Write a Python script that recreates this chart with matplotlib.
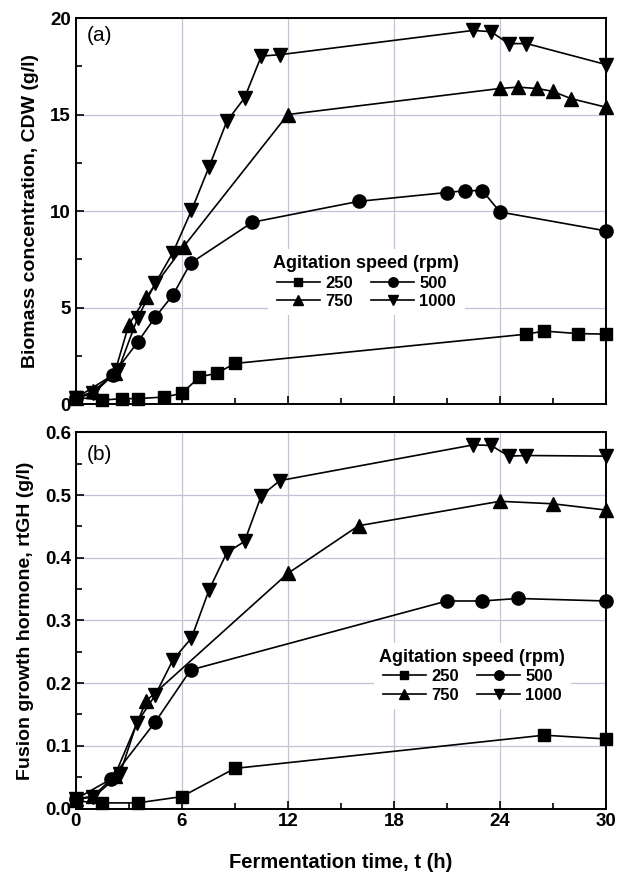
import matplotlib
matplotlib.use("Agg")
import matplotlib.pyplot as plt
from matplotlib.ticker import MultipleLocator

plt.rcParams['font.family'] = ['Liberation Sans', 'DejaVu Sans']

# ---- Data: panel (a) biomass CDW (g/l) ----
t_a_250 = [0, 1.5, 2.6, 3.5, 5.0, 6.0, 7.0, 8.0, 9.0, 25.5, 26.5, 28.4, 30.0]
y_a_250 = [0.35, 0.2, 0.28, 0.28, 0.36, 0.55, 1.4, 1.6, 2.1, 3.62, 3.78, 3.65, 3.62]
t_a_500 = [0, 2.1, 3.5, 4.5, 5.5, 6.5, 10.0, 16.0, 21.0, 22.0, 23.0, 24.0, 30.0]
y_a_500 = [0.3, 1.5, 3.2, 4.5, 5.65, 7.3, 9.42, 10.5, 10.96, 11.05, 11.06, 9.95, 8.97]
t_a_750 = [0, 1.0, 2.2, 3.0, 4.0, 6.1, 12.0, 24.0, 25.0, 26.1, 27.0, 28.0, 30.0]
y_a_750 = [0.3, 0.65, 1.6, 4.1, 5.56, 8.15, 15.0, 16.35, 16.42, 16.35, 16.2, 15.83, 15.38]
t_a_1000 = [0, 1.0, 2.4, 3.5, 4.5, 5.5, 6.55, 7.55, 8.55, 9.55, 10.5, 11.55, 22.5, 23.5, 24.5, 25.5, 30.0]
y_a_1000 = [0.3, 0.55, 1.75, 4.45, 6.25, 7.85, 10.03, 12.3, 14.65, 15.86, 18.03, 18.1, 19.36, 19.29, 18.67, 18.68, 17.59]

# ---- Data: panel (b) rtGH (g/l) ----
t_b_250 = [0, 1.5, 3.5, 6.0, 9.0, 26.5, 30.0]
y_b_250 = [0.012, 0.009, 0.009, 0.019, 0.064, 0.117, 0.111]
t_b_500 = [0, 2.0, 4.5, 6.5, 21.0, 23.0, 25.0, 30.0]
y_b_500 = [0.015, 0.047, 0.138, 0.221, 0.331, 0.331, 0.335, 0.331]
t_b_750 = [0, 1.0, 2.2, 4.0, 12.0, 16.0, 24.0, 27.0, 30.0]
y_b_750 = [0.015, 0.02, 0.052, 0.172, 0.375, 0.451, 0.49, 0.486, 0.476]
t_b_1000 = [0, 1.0, 2.5, 3.45, 4.5, 5.5, 6.55, 7.55, 8.55, 9.55, 10.5, 11.55, 22.5, 23.5, 24.5, 25.5, 30.0]
y_b_1000 = [0.015, 0.018, 0.055, 0.136, 0.181, 0.237, 0.272, 0.349, 0.408, 0.426, 0.499, 0.523, 0.580, 0.579, 0.562, 0.563, 0.562]

speeds = ['250', '500', '750', '1000']
markers = ['s', 'o', '^', 'v']
msizes = [8, 9.5, 9.5, 9.5]

x_ticks = [0, 6, 12, 18, 24, 30]
grid_color = '#c2c2da'

fig = plt.figure(figsize=(6.17, 8.76), dpi=100)
ax_a = fig.add_axes([0.1227, 0.5388, 0.8595, 0.4406])
ax_b = fig.add_axes([0.1227, 0.0770, 0.8595, 0.4295])

series_a = [(t_a_250, y_a_250), (t_a_500, y_a_500), (t_a_750, y_a_750), (t_a_1000, y_a_1000)]
series_b = [(t_b_250, y_b_250), (t_b_500, y_b_500), (t_b_750, y_b_750), (t_b_1000, y_b_1000)]


def draw(ax, series, ylim, ymajor, yminor, yfmt, ylabel, tag, tag_dy, legend_loc):
    handles = []
    for (t, y), m, ms, lab in zip(series, markers, msizes, speeds):
        h, = ax.plot(t, y, color='black', lw=1.2, marker=m, ms=ms,
                     mfc='black', mec='black', label=lab, clip_on=False, zorder=3)
        handles.append(h)
    ax.set_xlim(0, 30)
    ax.set_ylim(*ylim)
    ax.xaxis.set_major_locator(MultipleLocator(6))
    ax.xaxis.set_minor_locator(MultipleLocator(3))
    ax.yaxis.set_major_locator(MultipleLocator(ymajor))
    ax.yaxis.set_minor_locator(MultipleLocator(yminor))
    ax.yaxis.set_major_formatter(yfmt)
    ax.grid(True, which='major', color=grid_color, lw=0.9, zorder=0)
    ax.tick_params(which='both', direction='in', top=False, right=False)
    ax.tick_params(which='major', length=6, width=1.2, labelsize=13.5)
    ax.tick_params(which='minor', length=4, width=1.2)
    for lbl in ax.get_xticklabels() + ax.get_yticklabels():
        lbl.set_fontweight('bold')
    for s in ax.spines.values():
        s.set_linewidth(1.4)
    ax.set_ylabel(ylabel, fontsize=14, fontweight='bold', labelpad=8)
    ax.annotate(tag, xy=(0, 1), xycoords='axes fraction',
                xytext=(8, tag_dy), textcoords='offset points',
                fontsize=15, ha='left', va='top')
    order = [handles[0], handles[2], handles[1], handles[3]]
    leg = ax.legend(order, [h.get_label() for h in order], ncol=2,
                    loc='center', bbox_to_anchor=legend_loc,
                    title='Agitation speed (rpm)', frameon=True,
                    facecolor='white', edgecolor='none', framealpha=1,
                    prop={'weight': 'bold', 'size': 12},
                    title_fontproperties={'weight': 'bold', 'size': 13},
                    markerscale=0.72, handlelength=2.6, handletextpad=0.3,
                    columnspacing=1.1, labelspacing=0.22, borderpad=0.35)
    leg.set_zorder(2)
    return ax


draw(ax_a, series_a, (0, 20), 5, 2.5, '{x:g}',
     'Biomass concentration, CDW (g/l)', '(a)', -6, (0.548, 0.316))
ax_a.tick_params(axis='x', labelbottom=False)

draw(ax_b, series_b, (0, 0.6), 0.1, 0.05, '{x:.1f}',
     'Fusion growth hormone, rtGH (g/l)', '(b)', -9, (0.748, 0.353))
ax_b.set_xticks(x_ticks)
ax_b.set_xticklabels([str(v) for v in x_ticks], fontweight='bold')
ax_b.set_xlabel('Fermentation time, t (h)', fontsize=14.5, fontweight='bold',
                labelpad=16)

fig.savefig('out.png', dpi=100)
